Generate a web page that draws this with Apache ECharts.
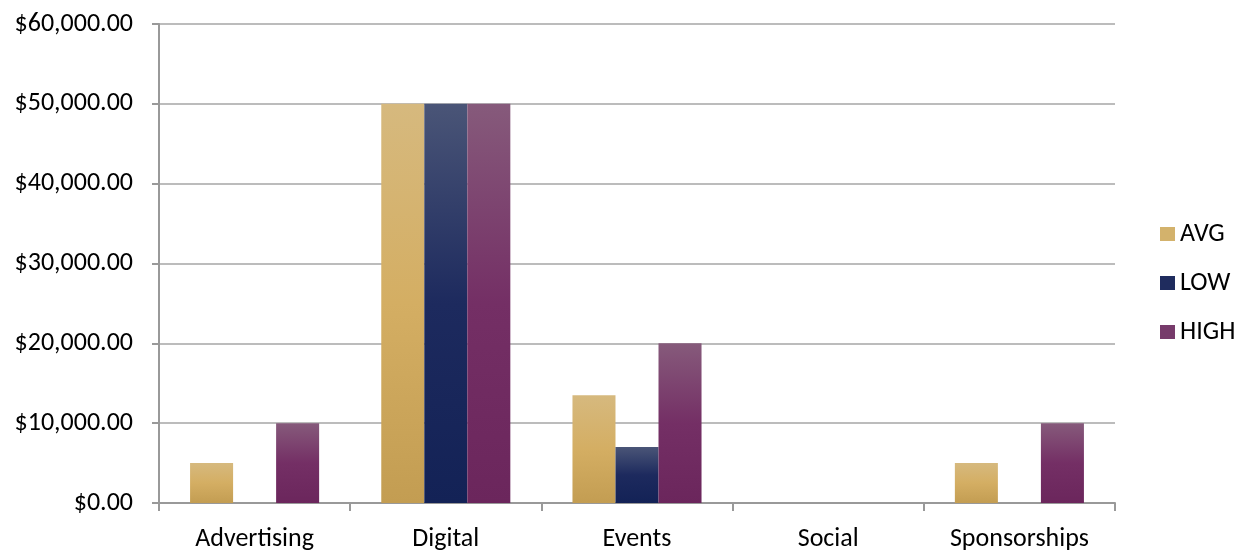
<!DOCTYPE html>
<html><head><meta charset="utf-8">
<script src="https://cdn.jsdelivr.net/npm/echarts@6/dist/echarts.min.js"></script>
<style>html,body{margin:0;padding:0;background:#fff}#c{width:1245px;height:553px}</style>
</head><body><div id="c"></div>
<script>
const categories = ['Advertising', 'Digital', 'Events', 'Social', 'Sponsorships'];
const avgValues = [5000, 50000, 13500, 0, 5000];
const lowValues = [0, 50000, 7000, 0, 0];
const highValues = [10000, 50000, 20000, 0, 10000];
const seriesNames = ['AVG', 'LOW', 'HIGH'];

const FONT = 'Carlito, Lato, "Liberation Sans", sans-serif';
function grad(top, mid, bot) {
  return new echarts.graphic.LinearGradient(0, 0, 0, 1, [
    {offset: 0, color: top}, {offset: 0.5, color: mid}, {offset: 1, color: bot}
  ]);
}
const fills = [
  grad('#D6B97E', '#D4AE63', '#C39D52'),
  grad('#4A5577', '#1D2A5E', '#132256'),
  grad('#865A7B', '#742F65', '#6B265C')
];
const legendColors = ['#D3B26C', '#1F2C5E', '#773B6B'];
const data = [avgValues, lowValues, highValues];

const chart = echarts.init(document.getElementById('c'));
chart.setOption({
  animation: false,
  grid: {left: 159, right: 130, top: 24, bottom: 50},
  legend: {
    orient: 'vertical', left: 1155, top: 216, itemWidth: 15, itemHeight: 14, itemGap: 23,
    icon: 'rect',
    textStyle: {fontFamily: FONT, fontSize: 26, color: '#000', padding: [0, 0, 0, 0]},
    data: seriesNames.map((n, i) => ({name: n, itemStyle: {color: legendColors[i]}}))
  },
  xAxis: {
    type: 'category', data: categories,
    axisLine: {lineStyle: {color: '#999', width: 2}},
    axisTick: {show: true, length: 8, lineStyle: {color: '#999', width: 2}},
    axisLabel: {fontFamily: FONT, fontSize: 26, color: '#000', margin: 23}
  },
  yAxis: {
    type: 'value', min: 0, max: 60000, interval: 10000,
    axisLine: {show: true, lineStyle: {color: '#999', width: 2}},
    axisTick: {show: true, length: 7, lineStyle: {color: '#999', width: 2}},
    splitLine: {lineStyle: {color: '#A6A6A6', width: 1.5}},
    axisLabel: {fontFamily: FONT, fontSize: 26, color: '#000', margin: 26,
      formatter: v => '$' + v.toLocaleString('en-US', {minimumFractionDigits: 2, maximumFractionDigits: 2})}
  },
  series: seriesNames.map((n, i) => ({
    name: n, type: 'bar', data: data[i],
    barGap: '0%', barCategoryGap: '32.5%',
    itemStyle: {color: fills[i]}
  }))
});
</script></body></html>
